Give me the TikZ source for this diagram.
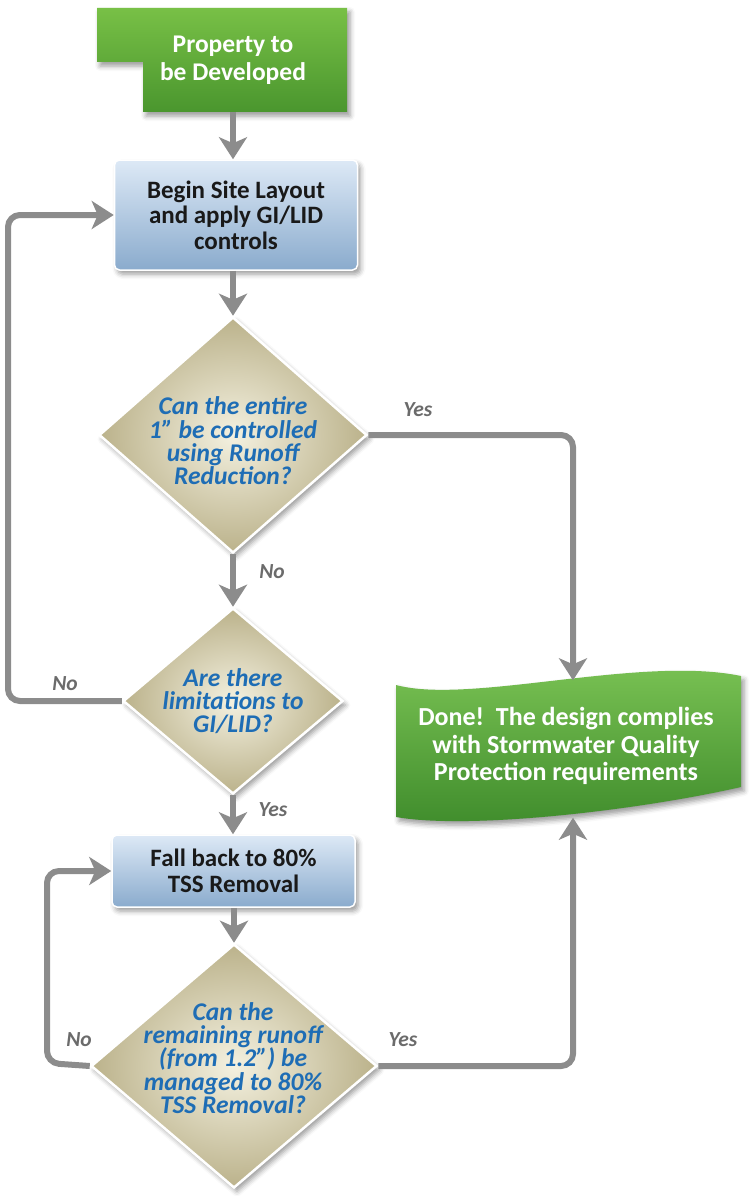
\documentclass[tikz,border=0pt]{standalone}
\usepackage{fontspec}
\setmainfont{Carlito}
\usetikzlibrary{shapes.geometric,arrows.meta,shadows.blur,calc}
\definecolor{conncol}{HTML}{8C8C8C}
\definecolor{labcol}{HTML}{6B6B6B}
\definecolor{qblue}{HTML}{1E6DB5}
\definecolor{greentop}{HTML}{78C046}
\definecolor{greenbot}{HTML}{4A962E}
\definecolor{donetop}{HTML}{7CC455}
\definecolor{donebot}{HTML}{3E8B2B}
\definecolor{bluetop}{HTML}{DDE9F6}
\definecolor{bluebot}{HTML}{8AABCD}
\definecolor{diain}{HTML}{F4F1E0}
\definecolor{diaout}{HTML}{BBB28B}
\tikzset{
  shad/.style={blur shadow={shadow xshift=3pt,shadow yshift=-4pt,shadow blur radius=5pt,shadow opacity=40}},
  procbox/.style={rectangle, rounded corners=5pt, draw=white, line width=1.5pt,
    top color=bluetop, bottom color=bluebot, shad, align=center, inner sep=0pt,
    font=\fontsize{25}{25.5}\selectfont\bfseries, text=black!90},
  dia/.style={diamond, draw=white, line width=2.5pt, inner color=diain, outer color=diaout,
    shad, inner sep=0pt},
  qtext/.style={align=center, inner sep=0pt, text=qblue,
    font=\fontsize{25.5}{23.3}\selectfont\bfseries\itshape},
  lbl/.style={inner sep=0pt, text=labcol, font=\fontsize{21.5}{22}\selectfont\bfseries\itshape},
  conn/.style={draw=conncol, line width=6pt, rounded corners=12pt,
    -{Stealth[length=22pt,width=28pt,inset=6pt]}},
  whitetext/.style={align=center, inner sep=0pt, text=white}
}
\begin{document}
\begin{tikzpicture}[x=1pt,y=-1pt]
\useasboundingbox (0,0) rectangle (752,1196);

% start shape
\path[shad, top color=greentop, bottom color=greenbot]
  (97,8) -- (347,8) -- (347,112) -- (143,112) -- (143,62) -- (97,62) -- cycle;
\node[whitetext, minimum height=104pt, font=\fontsize{25.5}{28}\selectfont\bfseries] (start) at (233,60) {Property to\\be Developed};

% process boxes
\node[procbox, minimum width=243pt, minimum height=110pt] (begin) at (236,215)
  {Begin Site Layout\\and apply GI/LID\\controls};
\node[procbox, minimum width=243pt, minimum height=72pt] (fall) at (233.5,871)
  {Fall back to 80\%\\TSS Removal};

% decisions
\node[dia, minimum width=268pt, minimum height=236pt] (d1) at (233,435) {};
\node[qtext] (d1t) at (233,441) {Can the entire\\1” be controlled\\using Runoff\\Reduction?};
\node[dia, minimum width=220pt, minimum height=186pt] (d2) at (233,701) {};
\node[qtext] (d2t) at (233,701) {Are there\\limitations to\\GI/LID?};
\node[dia, minimum width=286pt, minimum height=244pt] (d3) at (234,1066) {};
\node[qtext] (d3t) at (233,1058) {Can the\\remaining runoff\\(from 1.2”) be\\managed to 80\%\\TSS Removal?};

% done shape
\path[shad, top color=donetop, bottom color=donebot]
  (396,685) .. controls (470,705) and (640,655) .. (741,676) -- (741,787)
  .. controls (640,810) and (470,830) .. (396,817) -- cycle;
\node[inner sep=0pt, minimum width=345pt, minimum height=137pt] (done) at (573,749) {};
\node[whitetext, font=\fontsize{26}{27.5}\selectfont\bfseries] (donet) at (566,746)
  {Done!~~The design complies\\with Stormwater Quality\\Protection requirements};

% loop corners
\coordinate (lp1) at (8,701);
\coordinate (lp2) at (47,1063);

% connectors
\draw[conn] (start.south) -- (start.south |- begin.north);
\draw[conn] (begin.south -| d1.north) -- (d1.north);
\draw[conn] (d1.east) -| (done.north);
\draw[conn] (d1.south) -- (d2.north);
\draw[conn] (d2.west) -- (lp1) |- (begin.west);
\draw[conn] (d2.south) -- (d2.south |- fall.north);
\draw[conn] (fall.south -| d3.north) -- (d3.north);
\draw[conn] (d3.west) -- (lp2) |- (fall.west);
\draw[conn] (d3.east) -| (done.south);

% labels
\node[lbl] (l1) at (418,410) {Yes};
\node[lbl] (l2) at (272,572) {No};
\node[lbl] (l3) at (65,684) {No};
\node[lbl] (l4) at (273,810) {Yes};
\node[lbl] (l5) at (79,1040) {No};
\node[lbl] (l6) at (403,1040) {Yes};
\end{tikzpicture}
\end{document}
